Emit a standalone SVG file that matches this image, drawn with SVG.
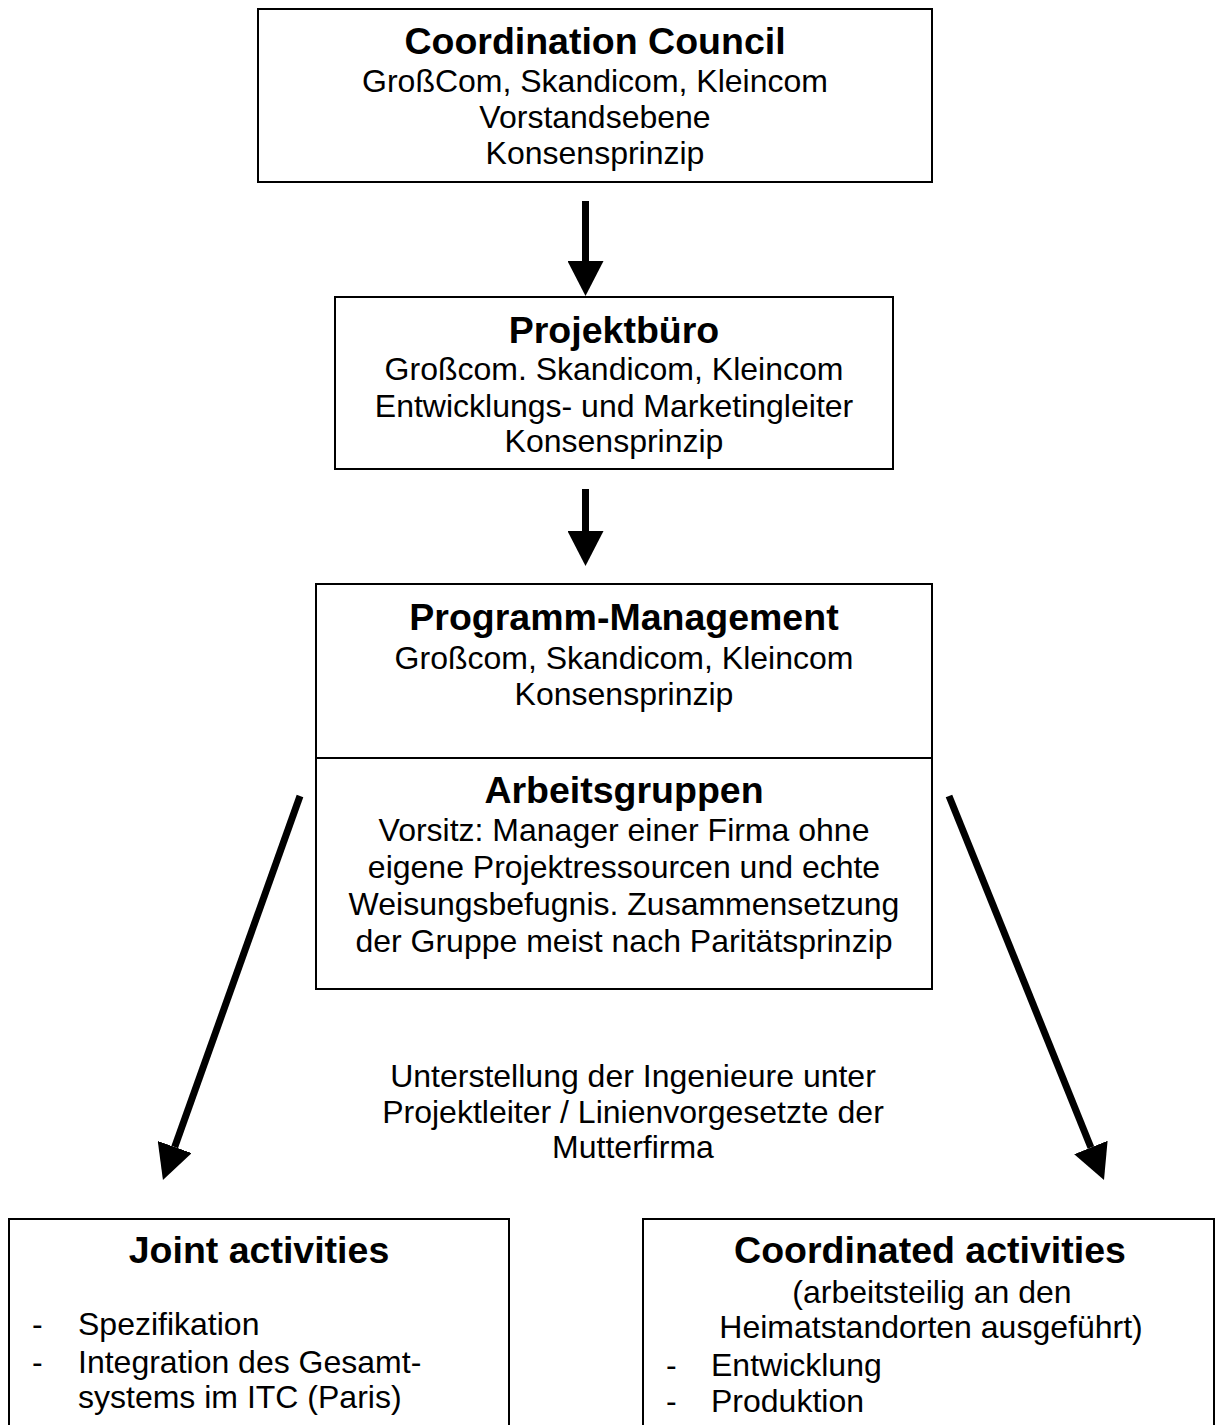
<svg xmlns="http://www.w3.org/2000/svg" width="1219" height="1425" viewBox="0 0 1219 1425">
<style>
.box{fill:#fff;stroke:#000;stroke-width:2}
.t{font-family:"Liberation Sans",Arial,sans-serif;font-size:32px;fill:#000;text-anchor:middle}
.h{font-family:"Liberation Sans",Arial,sans-serif;font-size:37.5px;font-weight:bold;fill:#000;text-anchor:middle}
.l{font-family:"Liberation Sans",Arial,sans-serif;font-size:32px;fill:#000}
.conn{stroke:#000;stroke-width:7;fill:none;marker-end:url(#ah)}
</style>
<defs>
<marker id="ah" markerUnits="userSpaceOnUse" markerWidth="36" markerHeight="36" refX="0" refY="18" orient="auto" viewBox="0 0 36 36">
<path d="M0,0 L35,18 L0,36 Z" fill="#000"/>
</marker>
</defs>
<rect width="1219" height="1425" fill="#fff"/>
<g id="coordination-council">
<rect class="box" x="258" y="9" width="674" height="173"/>
<text class="h" x="595" y="54">Coordination Council</text>
<text class="t" x="595" y="92">GroßCom, Skandicom, Kleincom</text>
<text class="t" x="595" y="128">Vorstandsebene</text>
<text class="t" x="595" y="164">Konsensprinzip</text>
</g>
<g id="projektbuero">
<rect class="box" x="335" y="297" width="558" height="172"/>
<text class="h" x="614" y="343">Projektbüro</text>
<text class="t" x="614" y="380">Großcom. Skandicom, Kleincom</text>
<text class="t" x="614" y="417">Entwicklungs- und Marketingleiter</text>
<text class="t" x="614" y="452">Konsensprinzip</text>
</g>
<g id="programm-management">
<rect class="box" x="316" y="584" width="616" height="405"/>
<line x1="316" y1="758" x2="932" y2="758" stroke="#000" stroke-width="2"/>
<text class="h" x="624" y="630">Programm-Management</text>
<text class="t" x="624" y="669">Großcom, Skandicom, Kleincom</text>
<text class="t" x="624" y="705">Konsensprinzip</text>
<text class="h" x="624" y="803">Arbeitsgruppen</text>
<text class="t" x="624" y="841">Vorsitz: Manager einer Firma ohne</text>
<text class="t" x="624" y="878">eigene Projektressourcen und echte</text>
<text class="t" x="624" y="915">Weisungsbefugnis. Zusammensetzung</text>
<text class="t" x="624" y="952">der Gruppe meist nach Paritätsprinzip</text>
</g>
<g id="unterstellung-label">
<text class="t" x="633" y="1087">Unterstellung der Ingenieure unter</text>
<text class="t" x="633" y="1123">Projektleiter / Linienvorgesetzte der</text>
<text class="t" x="633" y="1158">Mutterfirma</text>
</g>
<g id="joint-activities">
<rect class="box" x="9" y="1219" width="500" height="220"/>
<text class="h" x="259" y="1263">Joint activities</text>
<text class="l" x="32" y="1335">-</text>
<text class="l" x="78" y="1335">Spezifikation</text>
<text class="l" x="32" y="1373">-</text>
<text class="l" x="78" y="1373">Integration des Gesamt-</text>
<text class="l" x="78" y="1408">systems im ITC (Paris)</text>
</g>
<g id="coordinated-activities">
<rect class="box" x="643" y="1219" width="571" height="220"/>
<text class="h" x="930" y="1263">Coordinated activities</text>
<text class="t" x="932" y="1303">(arbeitsteilig an den</text>
<text class="t" x="931" y="1338">Heimatstandorten ausgeführt)</text>
<text class="l" x="666" y="1376">-</text>
<text class="l" x="711" y="1376">Entwicklung</text>
<text class="l" x="666" y="1412">-</text>
<text class="l" x="711" y="1412">Produktion</text>
</g>
<g id="connectors">
<line class="conn" x1="585.5" y1="201" x2="585.5" y2="261"/>
<line class="conn" x1="585.5" y1="489" x2="585.5" y2="531"/>
<line class="conn" x1="300" y1="796" x2="174.7" y2="1147"/>
<line class="conn" x1="949" y1="796" x2="1090.9" y2="1147.5"/>
</g>
</svg>
